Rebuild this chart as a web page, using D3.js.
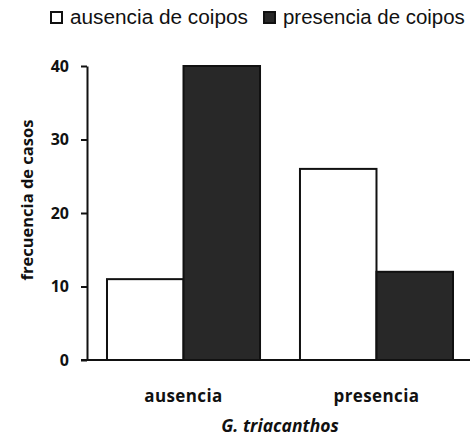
<!DOCTYPE html>
<html>
<head>
<meta charset="utf-8">
<script src="https://cdn.jsdelivr.net/npm/d3@7"></script>
<style>
  body { margin: 0; background: #fff; }
  .tick text { font-family: "Open Sans", sans-serif; font-weight: bold; font-size: 16px; fill: #111; }
</style>
</head>
<body>
<div id="chart"></div>
<script>
(function () {

    // data
    var categories = ["ausencia", "presencia"];
    var series = ["ausencia de coipos", "presencia de coipos"];
    var valuesAusencia = [11, 26];   // white bars
    var valuesPresencia = [40, 12];  // dark bars
    var yTicks = [0, 10, 20, 30, 40];

    var width = 470, height = 437;
    var left = 87, top = 66, bottom = 360;

    var svg = d3.select("#chart").append("svg")
        .attr("width", width)
        .attr("height", height);

    var x = d3.scaleBand()
        .domain(categories)
        .range([left, left + 386])
        .paddingInner(0.207)
        .paddingOuter(0.1036);

    var xInner = d3.scaleBand()
        .domain(series)
        .range([0, x.bandwidth()]);

    var y = d3.scaleLinear()
        .domain([0, 40])
        .range([bottom, top]);

    var color = d3.scaleOrdinal()
        .domain(series)
        .range(["#ffffff", "#282828"]);

    var rows = categories.map(function (c, i) {
        return { cat: c, vals: [
            { key: series[0], value: valuesAusencia[i] },
            { key: series[1], value: valuesPresencia[i] }
        ] };
    });

    // bars
    var groups = svg.selectAll(".grp")
        .data(rows)
        .enter().append("g")
        .attr("class", "grp")
        .attr("transform", function (d) { return "translate(" + x(d.cat) + ",0)"; });

    groups.selectAll("rect")
        .data(function (d) { return d.vals; })
        .enter().append("rect")
        .attr("x", function (d) { return xInner(d.key); })
        .attr("y", function (d) { return y(d.value); })
        .attr("width", xInner.bandwidth())
        .attr("height", function (d) { return bottom - y(d.value); })
        .attr("fill", function (d) { return color(d.key); })
        .attr("stroke", "#111")
        .attr("stroke-width", 2);

    // y axis
    var yAxis = svg.append("g")
        .attr("transform", "translate(" + left + ",0)")
        .call(d3.axisLeft(y).tickValues(yTicks).tickSize(6).tickPadding(12).tickSizeOuter(0));
    yAxis.selectAll("path, line").attr("stroke", "#111").attr("stroke-width", 2);

    // x axis baseline
    svg.append("line")
        .attr("x1", left - 6).attr("x2", width)
        .attr("y1", bottom).attr("y2", bottom)
        .attr("stroke", "#111").attr("stroke-width", 2);

    // category labels
    svg.selectAll(".catlab")
        .data(categories)
        .enter().append("text")
        .attr("class", "catlab")
        .attr("x", function (d) { return x(d) + x.bandwidth() / 2; })
        .attr("y", 402)
        .attr("text-anchor", "middle")
        .style("font-family", "Open Sans, sans-serif")
        .style("font-weight", "bold")
        .style("font-size", "17px")
        .style("letter-spacing", "0.4px")
        .attr("fill", "#111")
        .text(function (d) { return d; });

    svg.append("text")
        .attr("x", left + 193)
        .attr("y", 432)
        .attr("text-anchor", "middle")
        .style("font-family", "Open Sans, sans-serif")
        .style("font-weight", "bold")
        .style("font-style", "italic")
        .style("font-size", "17.5px")
        .attr("fill", "#111")
        .text("G. triacanthos");

    svg.append("text")
        .attr("transform", "translate(33,200) rotate(-90)")
        .attr("text-anchor", "middle")
        .style("font-family", "Open Sans, sans-serif")
        .style("font-weight", "bold")
        .style("font-size", "16.5px")
        .attr("fill", "#111")
        .text("frecuencia de casos");

    // legend
    var legendX = [51, 264];
    var legendW = [178, 182]; // text widths in the picture
    var legend = svg.selectAll(".leg")
        .data(series)
        .enter().append("g")
        .attr("class", "leg")
        .attr("transform", function (d, i) { return "translate(" + legendX[i] + ",12)"; });

    legend.append("rect")
        .attr("width", 11).attr("height", 11)
        .attr("fill", function (d) { return color(d); })
        .attr("stroke", "#111")
        .attr("stroke-width", 2);

    legend.append("text")
        .attr("x", 19)
        .attr("y", 12)
        .style("font-family", "'Liberation Sans', Arial, sans-serif")
        .style("font-size", "17.5px")
        .attr("fill", "#111")
        .text(function (d) { return d; })
        .each(function (d, i) {
            // fit font size to the width seen in the picture
            var w = this.getComputedTextLength();
            if (w > 0) d3.select(this).style("font-size", (17.5 * legendW[i] / w).toFixed(2) + "px");
        });
})();
</script>
</body>
</html>
